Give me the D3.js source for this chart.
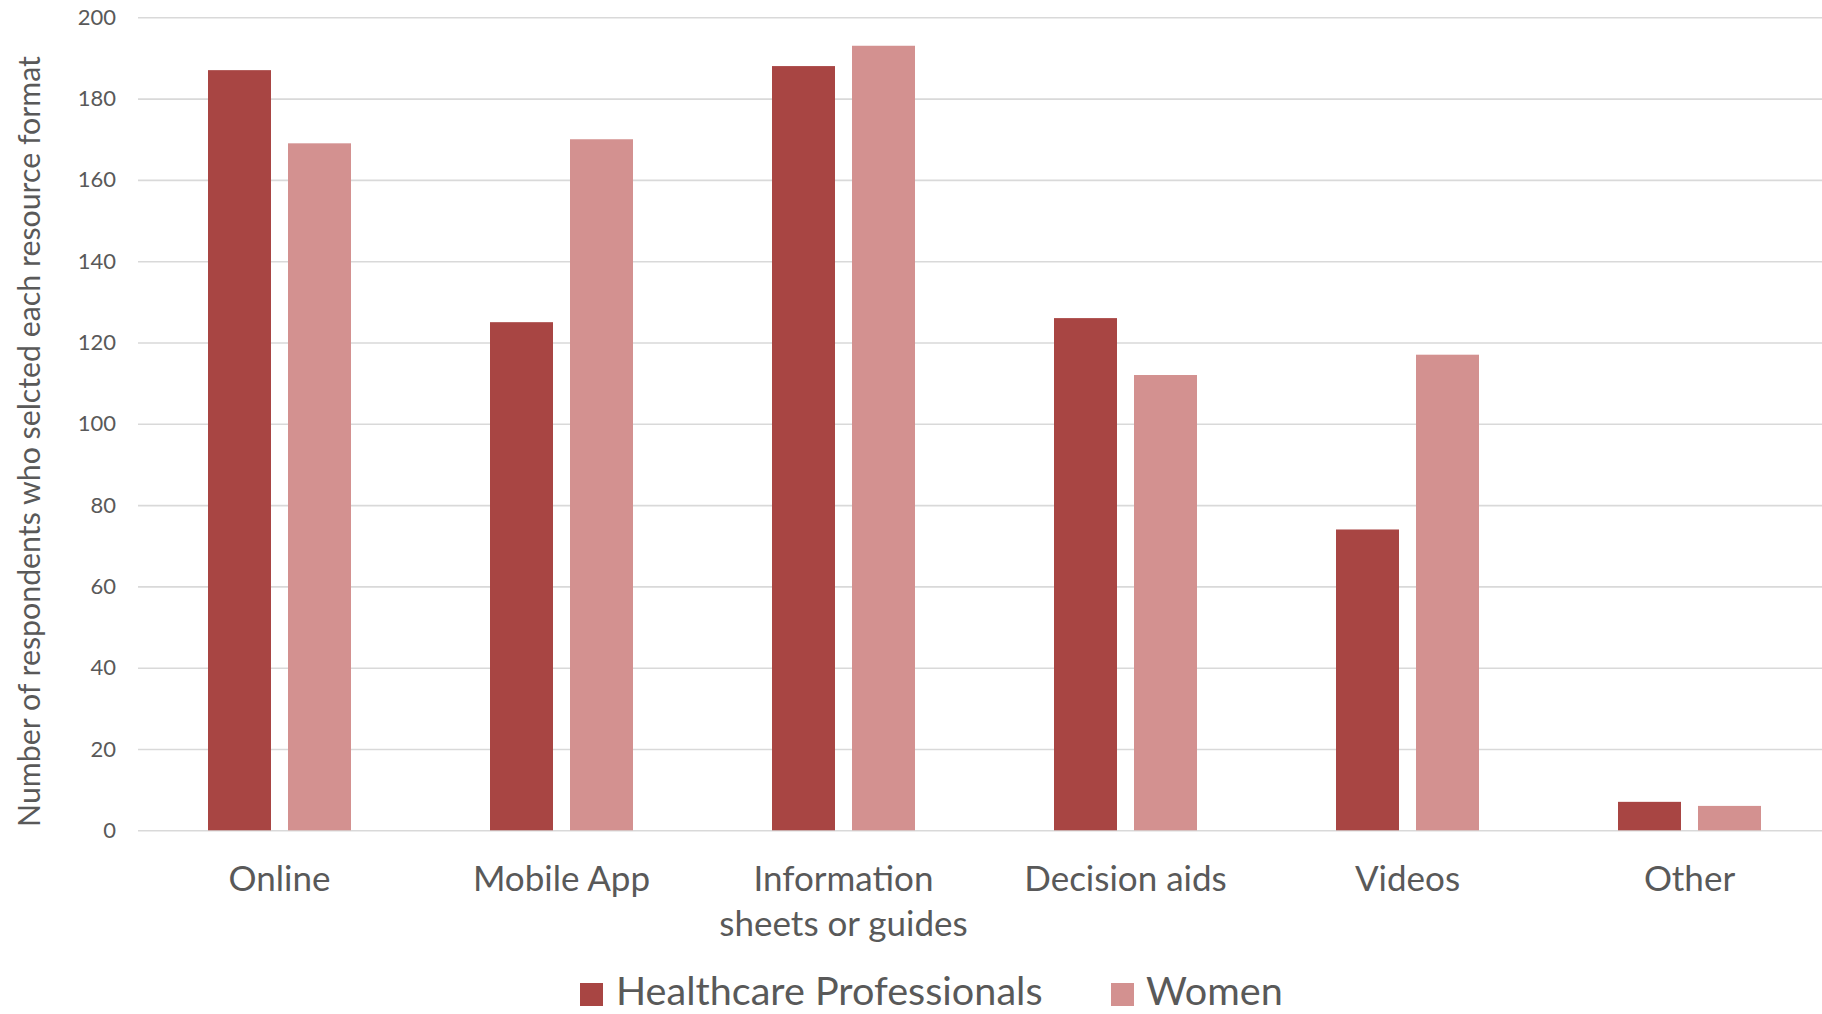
<!DOCTYPE html>
<html>
<head>
<meta charset="utf-8">
<script src="https://cdn.jsdelivr.net/npm/d3@7"></script>
<style>
  html, body { margin: 0; padding: 0; background: #ffffff; }
  svg { display: block; }
  text { font-family: Lato, "Open Sans", sans-serif; fill: #595959; }
</style>
</head>
<body>
<svg id="chart" width="1822" height="1014"></svg>
<script>
// Resource formats selected by each respondent group
const categories = ["Online", "Mobile App", "Information\nsheets or guides", "Decision aids", "Videos", "Other"];
const seriesNames = ["Healthcare Professionals", "Women"];
const healthcareProfessionals = [187, 125, 188, 126, 74, 7];
const women = [169, 170, 193, 112, 117, 6];
const yTicks = [0, 20, 40, 60, 80, 100, 120, 140, 160, 180, 200];
const colors = ["#A84543", "#D39190"];
const yTitle = "Number of respondents who selcted each resource format";

const seriesValues = [healthcareProfessionals, women];
const rows = categories.map((c, i) => ({
  category: c,
  values: seriesNames.map((s, j) => ({ series: s, value: seriesValues[j][i] }))
}));

const svg = d3.select("#chart");
const plot = { left: 138, right: 1822, top: 17.3, bottom: 830.3 };

// Category bands run slightly past the right edge of the canvas
const x0 = d3.scaleBand().domain(categories).range([138.5, 1830.5]).padding(0);
const groupW = 143;
const x1 = d3.scaleBand().domain(seriesNames).range([0, groupW]).paddingInner(0.2125).paddingOuter(0);
const y = d3.scaleLinear().domain([0, 200]).range([plot.bottom, plot.top]);
const color = d3.scaleOrdinal().domain(seriesNames).range(colors);

// Horizontal gridlines with tick labels
const yAxis = d3.axisLeft(y).tickValues(yTicks).tickSize(-(plot.right - plot.left)).tickPadding(22);
const gy = svg.append("g").attr("transform", `translate(${plot.left},0)`).call(yAxis);
gy.select(".domain").remove();
gy.selectAll(".tick line").attr("stroke", "#D9D9D9").attr("stroke-width", 1.6);
gy.selectAll(".tick text").attr("font-size", 22).attr("fill", "#595959")
  .style("font-family", "Lato, sans-serif");

// Bars
const groups = svg.append("g").selectAll("g").data(rows).join("g")
  .attr("transform", d => `translate(${x0(d.category) + (x0.bandwidth() - groupW) / 2},0)`);
groups.selectAll("rect").data(d => d.values).join("rect")
  .attr("x", d => x1(d.series))
  .attr("width", x1.bandwidth())
  .attr("y", d => y(d.value))
  .attr("height", d => y(0) - y(d.value))
  .attr("fill", d => color(d.series));

// Category labels (may wrap onto two lines)
const xl = svg.append("g");
categories.forEach(c => {
  const cx = x0(c) + x0.bandwidth() / 2;
  const t = xl.append("text")
    .attr("x", cx)
    .attr("y", 891)
    .attr("text-anchor", "middle")
    .attr("font-size", 35);
  c.split("\n").forEach((line, k) => {
    t.append("tspan").attr("x", cx).attr("dy", k === 0 ? 0 : 44.5).text(line);
  });
});

// Y axis title
svg.append("text")
  .attr("transform", `translate(40,441.5) rotate(-90)`)
  .attr("text-anchor", "middle")
  .attr("font-size", 30.3)
  .text(yTitle);

// Legend
const legend = svg.append("g");
const legendItems = [{ name: seriesNames[0], sx: 580, tx: 616 }, { name: seriesNames[1], sx: 1111, tx: 1146 }];
legendItems.forEach(d => {
  legend.append("rect").attr("x", d.sx).attr("y", 983).attr("width", 23).attr("height", 23).attr("fill", color(d.name));
  legend.append("text").attr("x", d.tx).attr("y", 1005).attr("font-size", 39.6).text(d.name);
});
</script>
</body>
</html>
